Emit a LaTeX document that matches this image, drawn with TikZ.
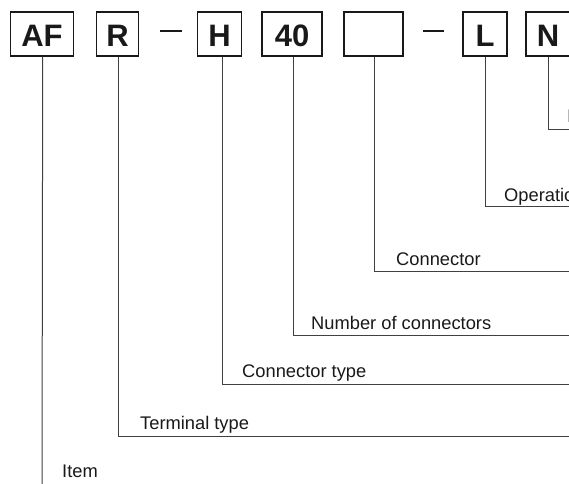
\documentclass[tikz,border=0pt]{standalone}
\usepackage{fontspec}
\setmainfont{Liberation Sans}
\begin{document}
\begin{tikzpicture}[x=1pt,y=-1pt,
  codebox/.style={draw=black!90, line width=1.8pt, minimum height=44pt, inner sep=0pt,
    text height=25pt, font=\fontsize{31}{31}\selectfont\bfseries, text=black!90},
  lead/.style={draw=black!75, line width=1pt},
  dashbar/.style={draw=black!90, line width=2pt},
  lbl/.style={anchor=base west, inner sep=0pt, font=\fontsize{18.3}{20}\selectfont, text=black!90}]
\useasboundingbox (0,0) rectangle (569,483);
\clip (0,0) rectangle (569,483);
% boxes
\node[codebox, minimum width=63pt] (AF) at (42,34) {AF};
\node[codebox, minimum width=42pt] (R) at (117.5,34) {R};
\node[codebox, minimum width=44pt] (H) at (219.5,34) {H};
\node[codebox, minimum width=60pt] (N40) at (292,34) {40};
\node[codebox, minimum width=59pt] (E) at (373.5,34) {};
\node[codebox, minimum width=44pt] (L) at (485,34) {L};
\node[codebox, minimum width=44pt] (N) at (548,34) {N};
% dashes
\coordinate (d1a) at (160,30.5); \coordinate (d1b) at (182,30.5);
\coordinate (d2a) at (423,31); \coordinate (d2b) at (444,31);
\draw[dashbar] (d1a) -- (d1b);
\draw[dashbar] (d2a) -- (d2b);
% right ends
\coordinate (eN) at (575,129.5);
\coordinate (eL) at (575,206.5);
\coordinate (eE) at (575,271);
\coordinate (e40) at (575,335);
\coordinate (eH) at (575,384);
\coordinate (eR) at (575,436);
\coordinate (eAF) at (42.7,490);
% leaders
\draw[lead] ([xshift=0pt]N.south) |- (eN);
\draw[lead] ([xshift=0pt]L.south) |- (eL);
\draw[lead] ([xshift=0.5pt]E.south) |- (eE);
\draw[lead] ([xshift=1pt]N40.south) |- (e40);
\draw[lead] ([xshift=2.5pt]H.south) |- (eH);
\draw[lead] ([xshift=0.5pt]R.south) |- (eR);
\draw[lead] ([xshift=0.7pt]AF.south) -- (AF.south |- eAF);
% labels
\node[lbl] (tN) at (567,122.5) {Insulator};
\node[lbl] (tL) at (504,201) {Operation};
\node[lbl] (tE) at (396,265) {Connector};
\node[lbl] (t40) at (311,329) {Number of connectors};
\node[lbl] (tH) at (242,377.5) {Connector type};
\node[lbl] (tR) at (140,429.5) {Terminal type};
\node[lbl] (tAF) at (62,477) {Item};
\end{tikzpicture}
\end{document}
